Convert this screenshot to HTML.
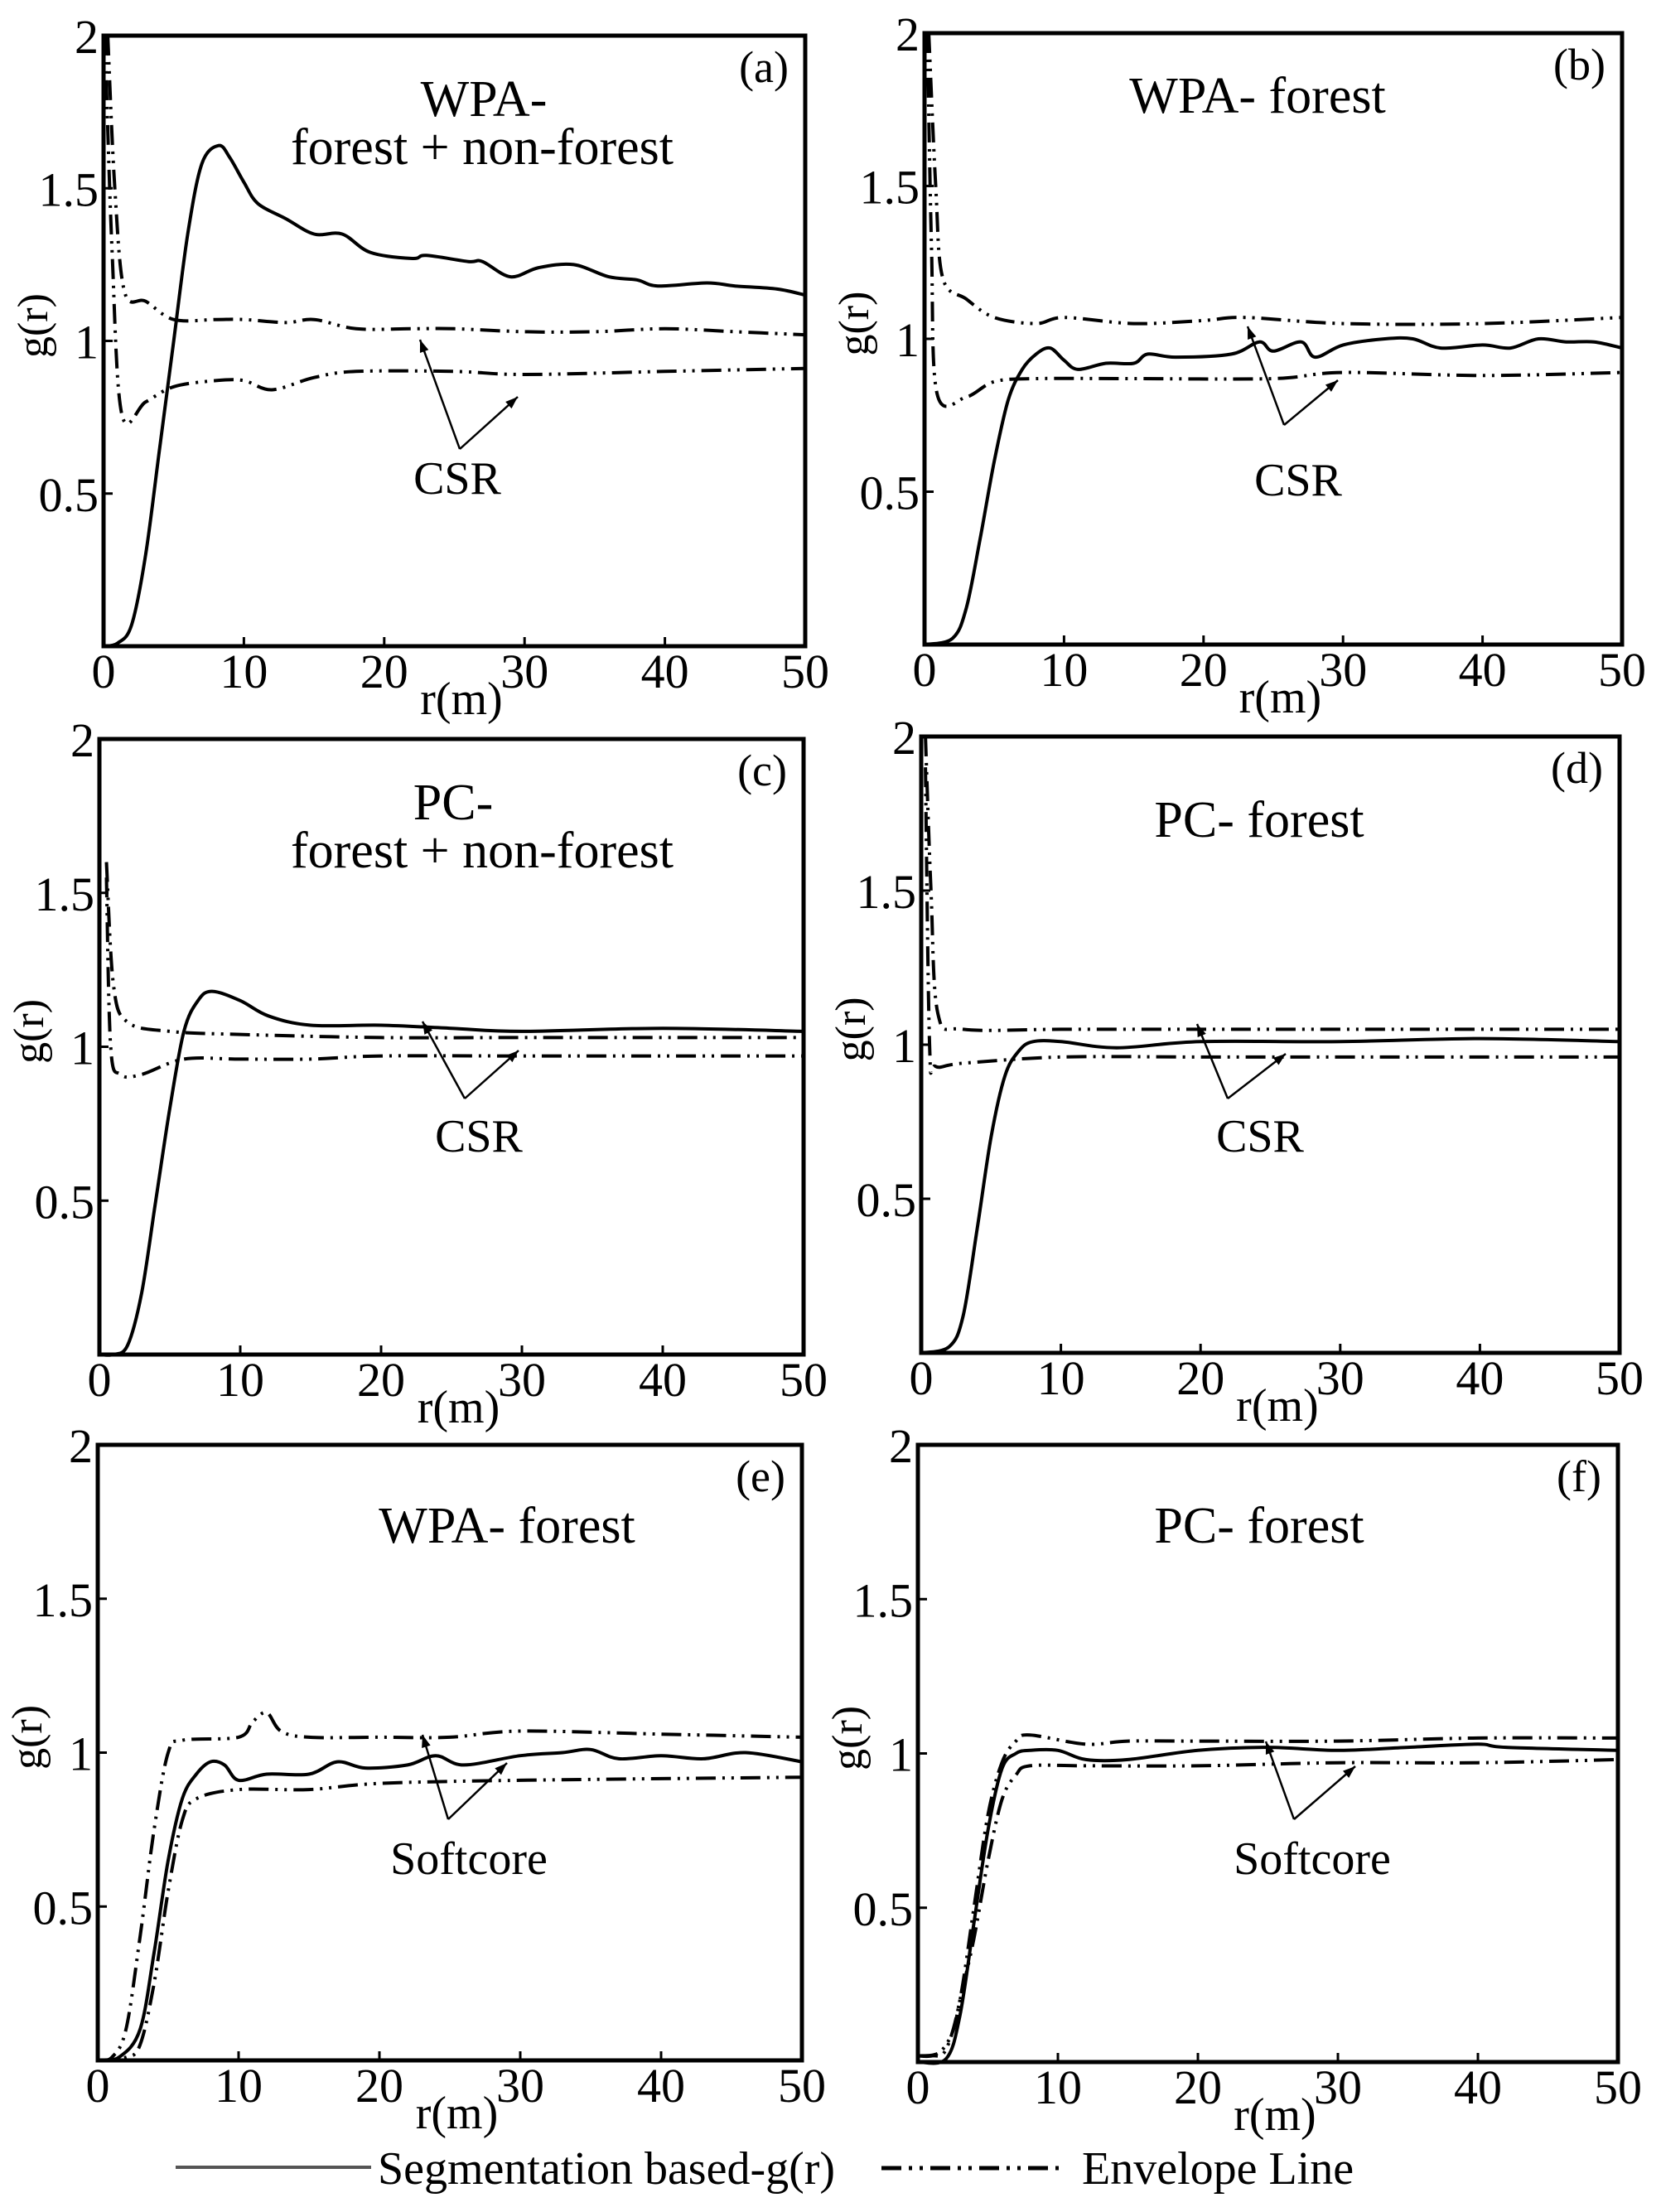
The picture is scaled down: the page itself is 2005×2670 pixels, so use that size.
<!DOCTYPE html>
<html><head><meta charset="utf-8"><style>
html,body{margin:0;padding:0;background:#fff;}
svg{display:block;}
text{font-family:"Liberation Serif",serif;fill:#000;}
</style></head><body>
<svg id="s" width="2005" height="2670" viewBox="0 0 2005 2670" xmlns="http://www.w3.org/2000/svg" font-family="Liberation Serif, serif"></svg>
<script>
const S=document.getElementById('s');
let out='';
const panels=[
 {L:125,R:972,T:43,B:780,lab:'(a)',
  titles:[['WPA-',584,140],['forest + non-forest',582,198]],ann:'CSR',annX:552,annY:596,ap:[555,542],a1:[507,410],a2:[625,479],
  solid:[[0,0],[1,0.01],[2,0.07],[3,0.3],[4,0.65],[5,1.0],[6,1.35],[7,1.58],[8.2,1.64],[9,1.6],[10,1.52],[11,1.45],[13,1.4],[15,1.35],[17,1.35],[19,1.29],[22,1.27],[23,1.28],[26,1.26],[27,1.26],[29,1.21],[31,1.24],[33.5,1.25],[36,1.21],[38,1.2],[39.5,1.18],[43,1.19],[45,1.18],[48,1.17],[50,1.15]],
  up:[[0.3,2],[0.8,1.5],[1.5,1.16],[3,1.13],[5,1.07],[8,1.07],[10,1.07],[13,1.06],[15,1.07],[18,1.04],[22,1.04],[25,1.04],[30,1.03],[35,1.03],[40,1.04],[45,1.03],[50,1.02]],
  lo:[[0.1,2],[0.6,1.3],[1.3,0.76],[3,0.8],[5,0.85],[8,0.87],[10,0.87],[12,0.84],[15,0.88],[18,0.9],[25,0.9],[30,0.89],[40,0.9],[50,0.91]]},
 {L:1116,R:1958,T:40,B:778,lab:'(b)',
  titles:[['WPA- forest',1518,136]],ann:'CSR',annX:1567,annY:598,ap:[1550,513],a1:[1506,394],a2:[1615,459],
  solid:[[0,0],[2,0.02],[3,0.12],[4,0.35],[5,0.6],[6,0.8],[7,0.9],[8,0.95],[9,0.97],[10,0.93],[11,0.9],[13,0.92],[15,0.92],[16,0.95],[18,0.94],[22,0.95],[24,0.99],[25,0.96],[27,0.99],[28,0.94],[30,0.98],[33,1.0],[35,1.0],[37,0.97],[40,0.98],[42,0.97],[44,1.0],[46,0.99],[48,0.99],[50,0.97]],
  up:[[0.3,2],[0.8,1.5],[1.3,1.2],[3,1.13],[5,1.07],[8,1.05],[10,1.07],[15,1.05],[20,1.06],[23,1.07],[30,1.05],[40,1.05],[50,1.07]],
  lo:[[0.2,2.0],[0.5,1.3],[0.9,0.82],[3,0.81],[5,0.86],[8,0.87],[15,0.87],[25,0.87],[30,0.89],[40,0.88],[50,0.89]]},
 {L:120,R:970,T:892,B:1635,lab:'(c)',
  titles:[['PC-',547,989],['forest + non-forest',582,1047]],ann:'CSR',annX:578,annY:1390,ap:[561,1326],a1:[510,1233],a2:[626,1268],
  solid:[[0,0],[1,0],[2,0.03],[3,0.2],[4,0.5],[5,0.8],[6,1.05],[7,1.15],[8,1.18],[10,1.15],[12,1.1],[15,1.07],[20,1.07],[25,1.06],[30,1.05],[40,1.06],[50,1.05]],
  up:[[0.5,1.6],[1,1.2],[2,1.08],[5,1.05],[10,1.04],[20,1.03],[30,1.03],[50,1.03]],
  lo:[[0.5,1.55],[0.8,1.0],[1.5,0.91],[3,0.91],[6,0.96],[10,0.96],[15,0.96],[20,0.97],[30,0.97],[50,0.97]]},
 {L:1112,R:1955,T:889,B:1633,lab:'(d)',
  titles:[['PC- forest',1520,1010]],ann:'CSR',annX:1521,annY:1390,ap:[1482,1326],a1:[1445,1236],a2:[1552,1272],
  solid:[[0,0],[2,0.02],[3,0.12],[4,0.4],[5,0.7],[6,0.9],[7,0.98],[8,1.01],[10,1.01],[14,0.99],[20,1.01],[30,1.01],[40,1.02],[50,1.01]],
  up:[[0.3,2],[0.7,1.5],[1.2,1.1],[3,1.05],[10,1.05],[20,1.05],[30,1.05],[50,1.05]],
  lo:[[0.3,1.9],[0.6,1.0],[1,0.93],[3,0.94],[10,0.96],[20,0.96],[30,0.96],[50,0.96]]},
 {L:118,R:968,T:1744,B:2487,lab:'(e)',
  titles:[['WPA- forest',612,1862]],ann:'Softcore',annX:566,annY:2262,ap:[541,2196],a1:[510,2094],a2:[612,2128],
  solid:[[0,0],[1.5,0.01],[3,0.1],[4,0.35],[5,0.65],[6,0.85],[7,0.93],[8,0.97],[9,0.96],[10,0.91],[12,0.93],[15,0.93],[17,0.97],[19,0.95],[22,0.96],[24,0.99],[26,0.96],[30,0.99],[33,1.0],[35,1.01],[37,0.98],[40,0.99],[43,0.98],[46,1.0],[50,0.97]],
  up:[[0,0],[1,0.01],[2,0.1],[3,0.4],[4,0.75],[5,1.0],[6,1.04],[10,1.05],[11,1.1],[12,1.13],[13,1.07],[15,1.05],[20,1.05],[25,1.05],[30,1.07],[40,1.06],[50,1.05]],
  lo:[[0,0],[2,0.01],[3,0.05],[4,0.25],[5,0.55],[6,0.78],[7,0.85],[10,0.88],[15,0.88],[20,0.9],[30,0.91],[50,0.92]]},
 {L:1108,R:1953,T:1744,B:2489,lab:'(f)',
  titles:[['PC- forest',1520,1862]],ann:'Softcore',annX:1584,annY:2262,ap:[1562,2196],a1:[1528,2102],a2:[1636,2132],
  solid:[[0,0],[2,0.01],[3,0.15],[4,0.45],[5,0.75],[6,0.95],[7,1.0],[8,1.01],[10,1.01],[12,0.98],[15,0.98],[20,1.01],[25,1.02],[30,1.01],[35,1.02],[40,1.03],[42,1.02],[50,1.01]],
  up:[[0,0.02],[1,0.02],[2,0.04],[3,0.2],[4,0.5],[5,0.8],[6,0.97],[7,1.04],[8,1.06],[12,1.03],[15,1.04],[20,1.04],[30,1.04],[40,1.05],[50,1.05]],
  lo:[[0,0.02],[1.5,0.03],[2.5,0.1],[3,0.2],[4,0.4],[5,0.65],[6,0.85],[7,0.93],[8,0.96],[12,0.96],[20,0.96],[30,0.97],[40,0.97],[50,0.98]]}
];
function path(pts){
  let d='M'+pts[0][0].toFixed(1)+','+pts[0][1].toFixed(1);
  for(let i=0;i<pts.length-1;i++){
    const p0=pts[Math.max(0,i-1)],p1=pts[i],p2=pts[i+1],p3=pts[Math.min(pts.length-1,i+2)];
    const c1=[p1[0]+(p2[0]-p0[0])/6,p1[1]+(p2[1]-p0[1])/6];
    const c2=[p2[0]-(p3[0]-p1[0])/6,p2[1]-(p3[1]-p1[1])/6];
    d+='C'+c1[0].toFixed(1)+','+c1[1].toFixed(1)+' '+c2[0].toFixed(1)+','+c2[1].toFixed(1)+' '+p2[0].toFixed(1)+','+p2[1].toFixed(1);
  }
  return d;
}
const DASH='24 8 3 8 3 8';
for(const p of panels){
  const W=p.R-p.L,H=p.B-p.T;
  const X=r=>p.L+r/50*W, Y=g=>p.B-g/2*H;
  const m=a=>a.map(q=>[X(q[0]),Y(q[1])]);
  out+=`<path d="${path(m(p.solid))}" fill="none" stroke="#000" stroke-width="4"/>`;
  out+=`<path d="${path(m(p.up))}" fill="none" stroke="#000" stroke-width="4" stroke-dasharray="${DASH}"/>`;
  out+=`<path d="${path(m(p.lo))}" fill="none" stroke="#000" stroke-width="4" stroke-dasharray="${DASH}"/>`;
  out+=`<rect x="${p.L}" y="${p.T}" width="${W}" height="${H}" fill="none" stroke="#000" stroke-width="5"/>`;
  for(let r=0;r<=50;r+=10){
    const x=X(r);
    if(r>0&&r<50) out+=`<line x1="${x}" y1="${p.B}" x2="${x}" y2="${p.B-11}" stroke="#000" stroke-width="3"/>`;
    out+=`<text x="${x}" y="${p.B+50}" font-size="58" text-anchor="middle">${r}</text>`;
  }
  for(const g of [0.5,1,1.5,2]){
    const y=Y(g);
    out+=`<line x1="${p.L}" y1="${y}" x2="${p.L+11}" y2="${y}" stroke="#000" stroke-width="3"/>`;
    out+=`<text x="${p.L-6}" y="${y+21}" font-size="58" text-anchor="end">${g}</text>`;
  }
  const cx=p.L+25.5/50*W;
  out+=`<text x="${cx}" y="${p.B+82}" font-size="56" text-anchor="middle">r(m)</text>`;
  const gy=Y(1.05);
  out+=`<text transform="translate(${p.L-68},${gy}) rotate(-90)" font-size="52" text-anchor="middle">g(r)</text>`;
  out+=`<text x="${p.R-20}" y="${p.T+56}" font-size="54" text-anchor="end">${p.lab}</text>`;
  for(const t of p.titles) out+=`<text x="${t[1]}" y="${t[2]}" font-size="62" text-anchor="middle">${t[0]}</text>`;
  out+=`<text x="${p.annX}" y="${p.annY}" font-size="56" text-anchor="middle">${p.ann}</text>`;
  for(const a of [p.a1,p.a2]){
    out+=`<line x1="${p.ap[0]}" y1="${p.ap[1]}" x2="${a[0]}" y2="${a[1]}" stroke="#000" stroke-width="2.5"/>`;
    const ang=Math.atan2(a[1]-p.ap[1],a[0]-p.ap[0]);
    const L=16,w=0.35;
    const b1=[a[0]-L*Math.cos(ang-w),a[1]-L*Math.sin(ang-w)],b2=[a[0]-L*Math.cos(ang+w),a[1]-L*Math.sin(ang+w)];
    out+=`<polygon points="${a[0]},${a[1]} ${b1[0]},${b1[1]} ${b2[0]},${b2[1]}" fill="#000"/>`;
  }
}
out+=`<line x1="212" y1="2616" x2="448" y2="2616" stroke="#555" stroke-width="4"/>`;
out+=`<text x="456" y="2636" font-size="56">Segmentation based-g(r)</text>`;
out+=`<line x1="1064" y1="2617" x2="1285" y2="2617" stroke="#000" stroke-width="5" stroke-dasharray="24 9 4 9 4 9"/>`;
out+=`<text x="1306" y="2636" font-size="56">Envelope Line</text>`;
S.innerHTML=out;
</script>
</body></html>
